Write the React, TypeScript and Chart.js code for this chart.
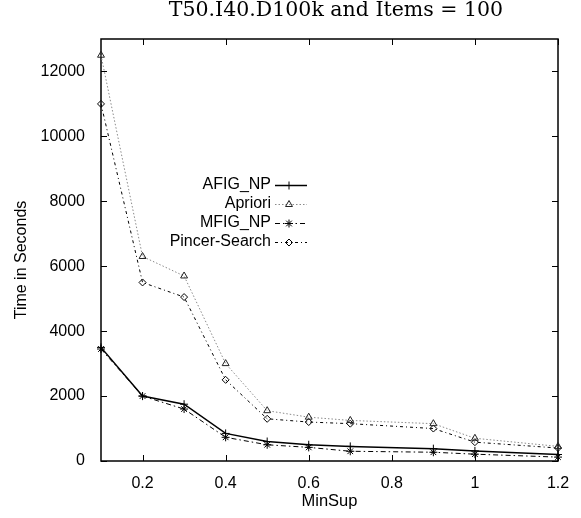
import React, { useEffect, useRef } from "react";
import { Chart, registerables } from "chart.js";
import { drawPoint } from "chart.js/helpers";

Chart.register(...registerables);

const minSup = [0.1, 0.2, 0.3, 0.4, 0.5, 0.6, 0.7, 0.9, 1.0, 1.2];
const afigNp = [3500, 2000, 1750, 850, 600, 500, 450, 380, 310, 200];
const apriori = [12500, 6300, 5700, 3000, 1550, 1350, 1250, 1150, 700, 450];
const mfigNp = [3450, 2000, 1600, 730, 500, 420, 300, 270, 210, 120];
const pincer = [11000, 5500, 5050, 2500, 1300, 1200, 1150, 1000, 580, 400];

const seriesNames = ["AFIG_NP", "Apriori", "MFIG_NP", "Pincer-Search"];
const xTicks = [0.2, 0.4, 0.6, 0.8, 1, 1.2];
const yTicks = [0, 2000, 4000, 6000, 8000, 10000, 12000];
const titleText = "T50.I40.D100k and Items = 100";
const xTitle = "MinSup";
const yTitle = "Time in Seconds";

const SANS = "'Liberation Sans', Arial, sans-serif";

const gnuplotPlugin = {
  id: "gnuplotBox",
  beforeDatasetsDraw(chart: any) {
    const { ctx, chartArea: a, scales } = chart;
    ctx.save();
    ctx.strokeStyle = "#000";
    ctx.lineWidth = 1;
    const tl = 6;
    ctx.beginPath();
    for (const v of xTicks) {
      const px = Math.round(scales.x.getPixelForValue(v)) + 0.5;
      ctx.moveTo(px, a.bottom);
      ctx.lineTo(px, a.bottom - tl);
      ctx.moveTo(px, a.top);
      ctx.lineTo(px, a.top + tl);
    }
    for (const v of yTicks) {
      const py = Math.round(scales.y.getPixelForValue(v)) + 0.5;
      ctx.moveTo(a.left, py);
      ctx.lineTo(a.left + tl, py);
      ctx.moveTo(a.right, py);
      ctx.lineTo(a.right - tl, py);
    }
    ctx.stroke();
    ctx.lineWidth = 1.5;
    ctx.strokeRect(a.left, a.top, a.right - a.left, a.bottom - a.top);
    ctx.restore();
  },
  afterDraw(chart: any) {
    const { ctx } = chart;
    ctx.save();
    // title
    ctx.fillStyle = "#000";
    ctx.font = "20.5px 'DejaVu Serif', serif";
    ctx.textAlign = "center";
    ctx.textBaseline = "middle";
    ctx.fillText(titleText, 336, 10.5);
    // y axis title
    ctx.save();
    ctx.translate(21.5, 260);
    ctx.rotate(-Math.PI / 2);
    ctx.font = "16px " + SANS;
    ctx.fillText(yTitle, 0, 0);
    ctx.restore();
    // legend
    ctx.font = "16px " + SANS;
    ctx.textAlign = "right";
    chart.data.datasets.forEach((ds: any, i: number) => {
      const y = 185 + i * 19;
      ctx.fillStyle = "#000";
      ctx.fillText(ds.label, 271, y);
      ctx.save();
      ctx.strokeStyle = ds.borderColor;
      ctx.lineWidth = ds.borderWidth;
      ctx.setLineDash(ds.borderDash || []);
      ctx.beginPath();
      ctx.moveTo(275, Math.round(y) + 0.5);
      ctx.lineTo(307, Math.round(y) + 0.5);
      ctx.stroke();
      ctx.restore();
      ctx.save();
      ctx.strokeStyle = ds.pointBorderColor;
      ctx.fillStyle = ds.pointBackgroundColor;
      ctx.lineWidth = ds.pointBorderWidth;
      drawPoint(
        ctx,
        { pointStyle: ds.pointStyle, radius: ds.pointRadius, rotation: 0, borderWidth: ds.pointBorderWidth } as any,
        289,
        Math.round(y) + 0.5
      );
      ctx.restore();
    });
    ctx.restore();
  },
};

export default function App() {
  const ref = useRef<HTMLCanvasElement>(null);
  useEffect(() => {
    if (!ref.current) return;
    const mk = (vals: number[]) => vals.map((v, i) => ({ x: minSup[i], y: v }));
    const chart = new Chart(ref.current, {
      type: "line",
      data: {
        datasets: [
          {
            label: seriesNames[0],
            data: mk(afigNp),
            borderColor: "#000",
            borderWidth: 1.5,
            borderDash: [],
            pointStyle: "cross",
            pointRadius: 4,
            pointBorderColor: "#000",
            pointBackgroundColor: "rgba(0,0,0,0)",
            pointBorderWidth: 1,
            clip: false,
          },
          {
            label: seriesNames[1],
            data: mk(apriori),
            borderColor: "#8a8a8a",
            borderWidth: 1,
            borderDash: [1.5, 2],
            pointStyle: "triangle",
            pointRadius: 4,
            pointBorderColor: "#222",
            pointBackgroundColor: "rgba(255,255,255,0)",
            pointBorderWidth: 1,
            clip: false,
          },
          {
            label: seriesNames[2],
            data: mk(mfigNp),
            borderColor: "#000",
            borderWidth: 1,
            borderDash: [5, 3, 1.5, 3],
            pointStyle: "star",
            pointRadius: 4,
            pointBorderColor: "#000",
            pointBackgroundColor: "rgba(0,0,0,0)",
            pointBorderWidth: 1,
            clip: false,
          },
          {
            label: seriesNames[3],
            data: mk(pincer),
            borderColor: "#000",
            borderWidth: 1,
            borderDash: [3, 3, 1, 3],
            pointStyle: "rectRot",
            pointRadius: 3.5,
            pointBorderColor: "#000",
            pointBackgroundColor: "rgba(255,255,255,0)",
            pointBorderWidth: 1,
            clip: false,
          },
        ] as any,
      },
      options: {
        responsive: false,
        animation: false,
        layout: { padding: { top: 39, right: 23, left: 0, bottom: 0 } },
        plugins: { legend: { display: false }, title: { display: false }, tooltip: { enabled: false } },
        elements: { line: { tension: 0 } },
        scales: {
          x: {
            type: "linear",
            min: 0.1,
            max: 1.2,
            grid: { display: false },
            border: { display: false },
            afterBuildTicks: (s: any) => {
              s.ticks = xTicks.map((v) => ({ value: v }));
            },
            afterFit: (s: any) => {
              s.height = 57;
            },
            ticks: {
              color: "#000",
              padding: 5,
              maxRotation: 0,
              font: { family: SANS, size: 16 },
              callback: (v: any) => String(v),
            },
            title: {
              display: true,
              text: xTitle,
              color: "#000",
              font: { family: SANS, size: 16.5 },
              padding: { top: 0, bottom: 7 },
            },
          },
          y: {
            type: "linear",
            min: 0,
            max: 13000,
            grid: { display: false },
            border: { display: false },
            afterBuildTicks: (s: any) => {
              s.ticks = yTicks.map((v) => ({ value: v }));
            },
            afterFit: (s: any) => {
              s.width = 101;
            },
            ticks: {
              color: "#000",
              padding: 8,
              font: { family: SANS, size: 16 },
              callback: (v: any) => String(v),
            },
          },
        },
      },
      plugins: [gnuplotPlugin],
    } as any);
    return () => chart.destroy();
  }, []);
  return (
    <div style={{ position: "absolute", left: 0, top: 0, width: 581, height: 518, background: "#fff" }}>
      <canvas ref={ref} width={581} height={518} style={{ display: "block" }} />
    </div>
  );
}
